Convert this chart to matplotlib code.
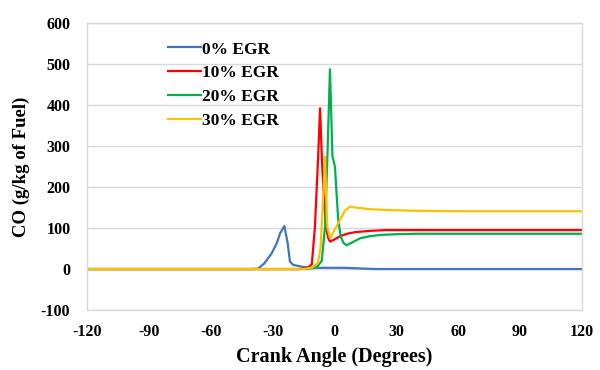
import matplotlib.pyplot as plt

# crank angle (deg) and CO (g/kg of fuel)
egr0_x = [-120, -40, -37, -34, -30.5, -28, -26.4, -24.3, -22.7, -21.6, -20, -15, -10, -5, 0, 5, 10, 20, 120]
egr0_y = [0, 0, 1, 14, 38, 63, 87, 105, 63, 18, 10, 5, 3, 3, 3, 3, 2, 0, 0]

egr10_x = [-120, -17, -13, -11, -9.5, -8, -7, -6.1, -5, -4.1, -3, -2.2, 0, 2.7, 6, 10, 17, 25, 35, 120]
egr10_y = [0, 0, 3, 12, 102, 266, 392, 266, 160, 102, 75, 67, 72, 80, 86, 90, 93, 95, 95, 95]

egr20_x = [-120, -14, -10, -8, -6.2, -4.6, -3.5, -2.2, -1.0, 0.2, 1.8, 3, 4.3, 5.9, 9, 12.4, 17, 22, 30, 40, 120]
egr20_y = [0, 0, 2, 8, 20, 102, 266, 487, 275, 250, 120, 80, 64, 58, 66, 75, 80, 83, 85, 86, 86]

egr30_x = [-120, -15, -11, -8, -6.7, -5.4, -4.6, -3.5, -2.2, 0, 2.7, 5, 7.5, 10, 17, 25, 40, 60, 120]
egr30_y = [0, 0, 3, 15, 54, 184, 274, 102, 75, 95, 120, 142, 152, 150, 146, 144, 142, 141, 141]

series = [
    ("0% EGR", egr0_x, egr0_y, "#4472C4"),
    ("10% EGR", egr10_x, egr10_y, "#FF0000"),
    ("20% EGR", egr20_x, egr20_y, "#00B050"),
    ("30% EGR", egr30_x, egr30_y, "#FFC000"),
]

x_ticks = [-120, -90, -60, -30, 0, 30, 60, 90, 120]
y_ticks = [-100, 0, 100, 200, 300, 400, 500, 600]

plt.rcParams["font.family"] = ["Liberation Serif", "DejaVu Serif"]
plt.rcParams["font.weight"] = "bold"
plt.rcParams["axes.unicode_minus"] = False

fig = plt.figure(figsize=(6, 3.7), dpi=100)
ax = fig.add_axes([0.145, 0.162, 0.825, 0.776])

for label, xs, ys, color in series:
    ax.plot(xs, ys, color=color, lw=1.6, label=label)

ax.set_xlim(-120, 120)
ax.set_ylim(-100, 600)
ax.set_xticks(x_ticks)
ax.set_yticks(y_ticks)
ax.tick_params(length=0, labelsize=11.5)
ax.tick_params(axis="x", pad=10)
ax.tick_params(axis="y", pad=12)
for t in ax.get_xticklabels() + ax.get_yticklabels():
    t.set_fontweight("bold")

ax.grid(axis="y", color="#D9D9D9", lw=1)
ax.set_axisbelow(True)
for s in ax.spines.values():
    s.set_color("#D9D9D9")
    s.set_linewidth(1)

ax.set_xlabel("Crank Angle (Degrees)", fontsize=14.5, fontweight="bold", labelpad=5)
ax.set_ylabel("CO (g/kg of Fuel)", fontsize=13.5, fontweight="bold", labelpad=8)

ax.legend(loc="upper left", bbox_to_anchor=(0.15, 0.96), frameon=False,
          handlelength=1.9, handletextpad=0.05, labelspacing=0.45,
          borderaxespad=0, prop={"weight": "bold", "size": 12.5})

fig.savefig("out.png", dpi=100)
